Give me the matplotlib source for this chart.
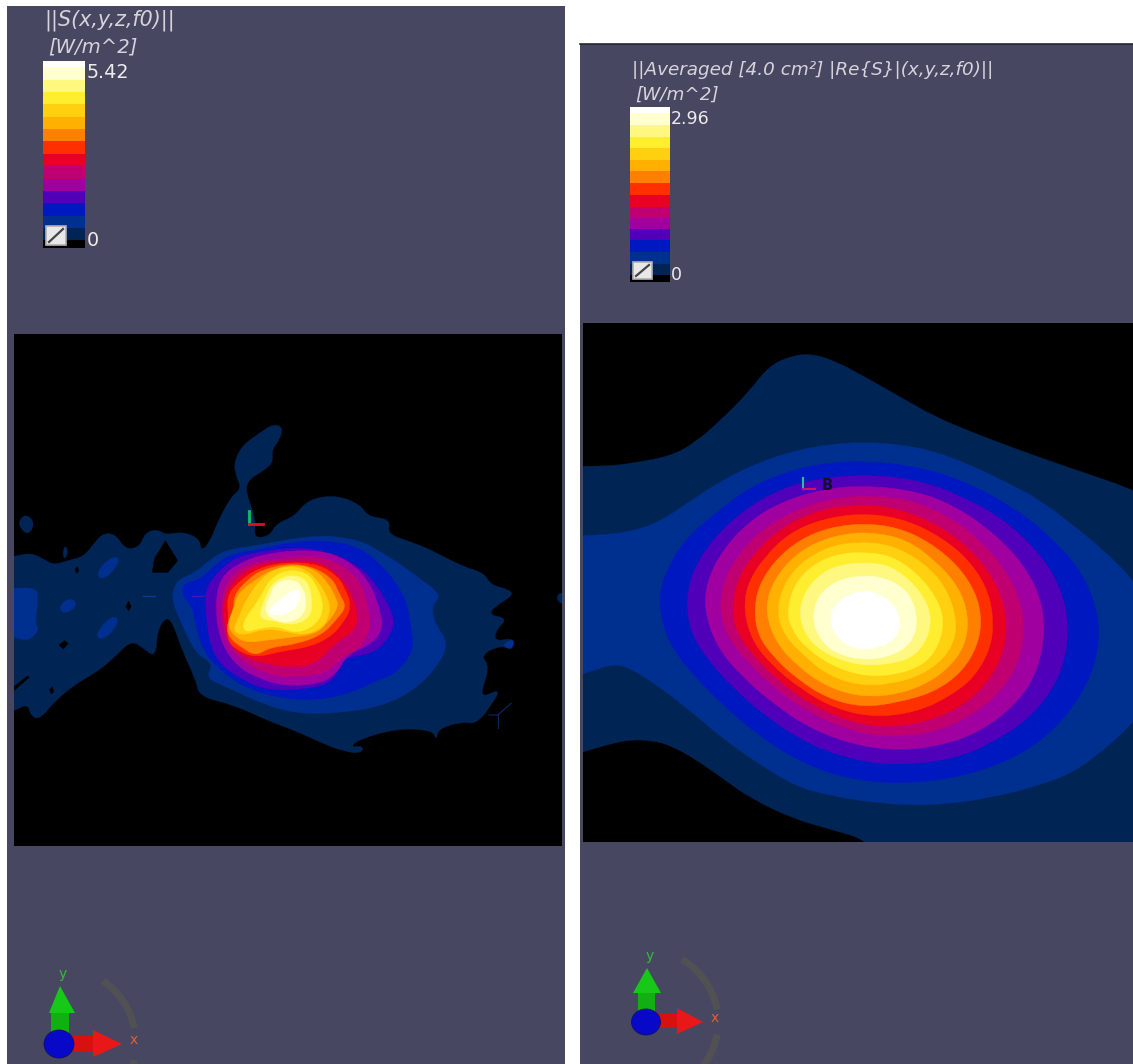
import numpy as np
import matplotlib
matplotlib.use("Agg")
import matplotlib.pyplot as plt
from matplotlib.colors import ListedColormap
from matplotlib.patches import Arc, Ellipse, Polygon, PathPatch, Rectangle
from matplotlib.path import Path

W, H = 1133, 1064
SLATE = "#474762"

band_colors = ["#000000", "#002555", "#00308f", "#0018c0", "#5000b8", "#a000a0",
               "#c00070", "#e80025", "#ff3000", "#ff8000", "#ffb000", "#ffd010",
               "#ffee30", "#fff880", "#ffffd0", "#ffffff"]

bar_levels_left = [0, 0.24, 0.58, 0.93, 1.30, 1.65, 2.00, 2.38, 2.73, 3.09, 3.46,
                   3.81, 4.17, 4.52, 4.88, 5.25, 5.42]
bar_levels_right = [0, 0.11, 0.31, 0.51, 0.71, 0.89, 1.08, 1.27, 1.48, 1.68, 1.88,
                    2.07, 2.26, 2.46, 2.66, 2.86, 2.96]

# left field, outlines per level
left_l1 = [(-50, 445), (11, 440), (60, 428), (100, 450), (125, 465), (170, 450), (210, 440), (240, 400),
           (265, 370), (300, 372), (330, 420), (370, 410), (385, 368), (420, 358), (445, 375), (490, 365),
           (540, 385), (545, 425), (570, 395), (590, 340), (630, 260), (660, 235), (645, 200), (638, 160),
           (660, 108), (710, 70), (750, 42), (778, 52), (768, 90), (745, 120), (750, 160), (710, 190),
           (685, 205), (670, 235), (690, 300), (700, 340), (695, 385), (740, 378), (760, 340), (810, 320),
           (850, 268), (930, 255), (1000, 285), (1020, 320), (1085, 328), (1075, 372), (1140, 395),
           (1200, 420), (1290, 470), (1350, 488), (1370, 525), (1420, 538), (1435, 555), (1380, 590),
           (1365, 615), (1418, 625), (1385, 660), (1380, 695), (1438, 683), (1432, 722), (1400, 705),
           (1340, 735), (1368, 770), (1335, 868), (1398, 835), (1375, 880), (1330, 942), (1290, 935),
           (1220, 955), (1215, 992), (1205, 960), (1100, 955), (990, 990), (970, 1012), (1008, 1008),
           (1000, 1030), (950, 1024), (880, 995), (820, 965), (730, 930), (640, 885), (540, 860),
           (530, 810), (490, 720), (465, 640), (445, 620), (420, 660), (415, 742), (380, 715), (345, 690),
           (290, 750), (240, 790), (190, 820), (130, 870), (85, 928), (60, 918), (50, 880), (11, 905),
           (-50, 905)]
left_l1_islands = [[(20, 340), (45, 310), (72, 340), (50, 378)],
                   [(150, 440), (155, 405), (165, 420), (160, 445)],
                   [(1555, 565), (1570, 545), (1590, 560), (1575, 585)]]
left_l0_holes = [[(443, 392), (412, 445), (405, 487), (450, 487), (478, 452)],
                 [(330, 590), (338, 573), (345, 590), (338, 602)],
                 [(140, 705), (155, 692), (166, 700), (152, 717)],
                 [(112, 840), (120, 830), (125, 845), (118, 852)],
                 [(186, 478), (192, 470), (196, 482), (190, 490)],
                 [(5, 835), (50, 798), (55, 802), (5, 848)]]
left_l2 = [(458, 560), (478, 508), (530, 488), (570, 448), (620, 418), (700, 408), (790, 388), (900, 375),
           (1000, 392), (1060, 428), (1120, 468), (1170, 508), (1230, 555), (1200, 590), (1210, 640),
           (1250, 700), (1218, 770), (1150, 842), (1060, 888), (950, 908), (820, 912), (720, 882),
           (620, 832), (558, 805), (580, 760), (530, 732), (488, 640)]
left_l2_islands = [[(250, 480), (290, 440), (315, 445), (290, 490), (255, 510)],
                   [(140, 590), (165, 565), (190, 575), (180, 600), (150, 610)],
                   [(245, 670), (285, 620), (312, 625), (290, 670), (255, 690)],
                   [(-50, 540), (70, 530), (82, 560), (70, 640), (85, 660), (45, 700), (-50, 650)],
                   [(1400, 705), (1438, 685), (1430, 720)]]
left_l3 = [(490, 555), (495, 520), (540, 510), (580, 470), (630, 430), (700, 422), (790, 398), (900, 390),
           (1000, 413), (1060, 468), (1100, 518), (1132, 580), (1142, 650), (1152, 720), (1100, 792),
           (1040, 812), (990, 842), (880, 872), (750, 862), (650, 822), (590, 772), (550, 720), (530, 650),
           (520, 590)]
left_l4 = [(556, 580), (560, 530), (598, 480), (646, 440), (741, 420), (836, 412), (912, 428), (978, 458),
           (1026, 498), (1064, 558), (1090, 610), (1095, 650), (1066, 702), (1026, 732), (960, 742),
           (942, 770), (912, 822), (836, 838), (741, 842), (665, 812), (598, 762), (568, 700)]
left_l5 = [(585, 590), (598, 500), (668, 450), (760, 425), (880, 420), (960, 448), (1022, 510), (1055, 600),
           (1062, 660), (1030, 702), (960, 732), (930, 792), (880, 822), (780, 828), (700, 802), (640, 762),
           (598, 690)]
left_l6 = [(598, 590), (622, 500), (688, 458), (790, 443), (880, 438), (952, 468), (1002, 520), (1022, 600),
           (1028, 660), (992, 722), (940, 742), (902, 792), (800, 802), (730, 792), (660, 752), (612, 690)]
left_l7 = [(608, 570), (638, 510), (700, 463), (800, 453), (880, 453), (942, 500), (977, 560), (992, 620),
           (982, 662), (922, 702), (872, 762), (800, 772), (730, 762), (670, 742), (623, 702), (610, 640)]
left_l8 = [(618, 560), (648, 518), (708, 473), (790, 456), (880, 463), (932, 498), (952, 530), (975, 590),
           (947, 642), (912, 682), (850, 712), (780, 722), (700, 743), (650, 722), (618, 692), (623, 620)]
left_l9 = [(638, 555), (678, 508), (720, 478), (800, 460), (870, 473), (922, 510), (937, 550), (960, 590),
           (927, 632), (892, 672), (820, 702), (740, 712), (700, 738), (660, 712), (623, 682), (618, 640),
           (638, 600)]
left_l10 = [(640, 590), (648, 550), (708, 503), (750, 478), (810, 463), (870, 478), (907, 520), (927, 560),
            (937, 590), (902, 642), (870, 672), (800, 682), (720, 692), (670, 698), (633, 672), (620, 640)]
left_l11 = [(653, 620), (672, 570), (720, 498), (779, 468), (836, 473), (876, 510), (904, 560), (914, 600),
            (895, 652), (836, 677), (779, 662), (722, 657), (665, 677), (634, 662)]
left_l12 = [(663, 635), (710, 570), (739, 508), (789, 478), (847, 488), (876, 530), (895, 590), (876, 642),
            (817, 672), (760, 647), (703, 657), (668, 667)]
left_l13 = [(706, 625), (729, 560), (748, 518), (798, 493), (847, 508), (862, 570), (857, 622), (807, 647),
            (750, 632)]
left_l14 = [(722, 605), (742, 555), (756, 518), (807, 505), (840, 538), (846, 602), (810, 636), (760, 636)]
left_l15 = [(735, 600), (770, 570), (812, 535), (832, 550), (815, 595), (780, 615), (745, 615)]

# right field, outlines per level
right_l1 = [(-100, 430), (60, 432), (150, 420), (250, 400), (320, 360), (400, 285), (470, 210), (530, 130),
            (590, 100), (650, 92), (720, 115), (800, 160), (900, 220), (1000, 280), (1100, 325), (1250, 385),
            (1400, 440), (1568, 500), (1750, 590), (1750, 1750), (900, 1750), (830, 1560), (700, 1520),
            (600, 1490), (480, 1430), (400, 1370), (320, 1310), (250, 1270), (200, 1255), (130, 1252),
            (60, 1270), (-100, 1320)]
right_l2 = [(-100, 640), (80, 638), (200, 610), (300, 540), (400, 470), (500, 420), (600, 385), (700, 365),
            (800, 358), (900, 365), (1000, 385), (1100, 425), (1200, 475), (1300, 530), (1400, 610),
            (1480, 680), (1568, 770), (1650, 900), (1650, 1100), (1568, 1200), (1500, 1270), (1400, 1350),
            (1300, 1390), (1150, 1430), (1000, 1450), (850, 1445), (700, 1420), (600, 1390), (480, 1310),
            (400, 1250), (300, 1160), (200, 1080), (130, 1035), (90, 1025), (40, 1040), (-100, 1090)]
right_l3 = [(215, 830), (235, 750), (290, 650), (380, 570), (480, 490), (600, 440), (700, 420), (800, 415),
            (950, 430), (1100, 480), (1250, 570), (1350, 660), (1430, 760), (1470, 880), (1470, 980),
            (1440, 1080), (1380, 1180), (1290, 1270), (1180, 1330), (1050, 1370), (900, 1385), (750, 1370),
            (620, 1320), (500, 1240), (390, 1140), (290, 1030), (235, 940)]
right_l4 = [(295, 840), (310, 750), (370, 650), (450, 570), (540, 510), (650, 470), (800, 455), (950, 470),
            (1080, 520), (1200, 590), (1300, 690), (1360, 790), (1385, 900), (1375, 1010), (1340, 1100),
            (1270, 1190), (1170, 1260), (1060, 1310), (900, 1330), (780, 1315), (650, 1270), (530, 1190),
            (420, 1090), (340, 990), (305, 920)]
right_l5 = [(345, 860), (355, 770), (400, 680), (470, 600), (560, 540), (680, 500), (800, 488), (950, 505),
            (1060, 550), (1170, 630), (1260, 730), (1310, 840), (1315, 950), (1290, 1060), (1230, 1150),
            (1130, 1230), (1020, 1270), (900, 1285), (780, 1270), (650, 1220), (550, 1150), (450, 1060),
            (380, 970)]
right_l6 = [(390, 860), (400, 780), (440, 700), (500, 630), (590, 570), (700, 530), (800, 518), (930, 530),
            (1040, 580), (1130, 650), (1210, 750), (1255, 860), (1255, 960), (1230, 1050), (1170, 1130),
            (1090, 1190), (1000, 1230), (880, 1245), (780, 1230), (660, 1180), (560, 1110), (470, 1020),
            (410, 940)]
right_l7 = [(425, 860), (440, 770), (490, 690), (560, 620), (650, 570), (750, 548), (850, 548), (960, 580),
            (1060, 640), (1140, 720), (1195, 820), (1210, 920), (1190, 1020), (1130, 1110), (1050, 1170),
            (950, 1205), (850, 1215), (750, 1195), (640, 1140), (550, 1070), (470, 980), (435, 920)]
right_l8 = [(458, 860), (470, 780), (520, 700), (590, 630), (680, 590), (790, 572), (900, 585), (1000, 630),
            (1090, 700), (1150, 790), (1170, 880), (1165, 970), (1120, 1060), (1050, 1120), (950, 1170),
            (830, 1185), (720, 1160), (620, 1100), (530, 1020), (480, 950)]
right_l9 = [(488, 870), (500, 790), (550, 710), (620, 650), (700, 615), (800, 602), (900, 615), (990, 660),
            (1070, 730), (1120, 810), (1137, 890), (1125, 970), (1080, 1050), (1000, 1110), (900, 1140),
            (800, 1155), (700, 1130), (610, 1070), (540, 1000), (500, 940)]
right_l10 = [(520, 870), (535, 790), (590, 710), (660, 660), (750, 632), (830, 630), (920, 650), (1000, 710),
             (1070, 790), (1100, 880), (1090, 970), (1040, 1040), (970, 1090), (880, 1120), (780, 1122),
             (690, 1090), (610, 1030), (550, 960)]
right_l11 = [(552, 870), (570, 790), (620, 720), (700, 672), (780, 658), (870, 665), (950, 705), (1020, 770),
             (1060, 860), (1065, 940), (1030, 1010), (960, 1060), (880, 1085), (790, 1090), (700, 1060),
             (630, 1000), (575, 940)]
right_l12 = [(582, 870), (600, 790), (650, 730), (720, 695), (800, 688), (880, 700), (950, 750), (1005, 820),
             (1030, 890), (1015, 970), (970, 1030), (880, 1060), (790, 1060), (700, 1025), (630, 970),
             (595, 920)]
right_l13 = [(615, 880), (630, 810), (680, 750), (740, 725), (810, 720), (880, 730), (950, 790), (990, 860),
             (990, 930), (950, 1000), (880, 1025), (790, 1030), (700, 1000), (640, 950)]
right_l14 = [(655, 880), (670, 820), (720, 775), (790, 758), (860, 765), (920, 800), (950, 860), (950, 930),
             (920, 980), (850, 1010), (770, 1010), (700, 980), (665, 930)]
right_l15 = [(702, 890), (718, 845), (760, 815), (810, 803), (865, 825), (900, 870), (905, 915), (885, 955),
             (830, 980), (770, 980), (722, 945)]

left_levels = [left_l1, left_l2, left_l3, left_l4, left_l5, left_l6, left_l7, left_l8, left_l9, left_l10,
               left_l11, left_l12, left_l13, left_l14, left_l15]
right_levels = [right_l1, right_l2, right_l3, right_l4, right_l5, right_l6, right_l7, right_l8, right_l9,
                right_l10, right_l11, right_l12, right_l13, right_l14, right_l15]

fig = plt.figure(figsize=(W / 100, H / 100), dpi=100, facecolor="white")


def px_axes(x0, y0, x1, y1, **kw):
    # axes from picture pixels (y down)
    return fig.add_axes([x0 / W, 1 - y1 / H, (x1 - x0) / W, (y1 - y0) / H], **kw)


def smooth_patch(pts, color):
    # closed quadratic curve through the midpoints of the outline
    p = np.array(pts, dtype=float)
    mids = (p + np.roll(p, -1, axis=0)) / 2
    verts = [mids[-1]]
    codes = [Path.MOVETO]
    for a, m in zip(p, mids):
        verts += [a, m]
        codes += [Path.CURVE3, Path.CURVE3]
    return PathPatch(Path(verts, codes), fc=color, ec=color, lw=0.3)


# panel backgrounds
bg1 = px_axes(7, 6, 565, 1064, facecolor=SLATE)
bg1.axis("off")
bg1.add_patch(Rectangle((0, 0), 1, 1, transform=bg1.transAxes, fc=SLATE, ec="none"))
bg2 = px_axes(580, 44, 1133, 1064, facecolor=SLATE)
bg2.axis("off")
bg2.add_patch(Rectangle((0, 0), 1, 1, transform=bg2.transAxes, fc=SLATE, ec="none"))

# left field
ax1 = px_axes(14, 334, 562, 846, facecolor="black")
ax1.set_xlim(11.4, 1573)
ax1.set_ylim(1308, -228)
ax1.set_xticks([])
ax1.set_yticks([])
for s in ax1.spines.values():
    s.set_visible(False)
for i, pts in enumerate(left_levels):
    ax1.add_patch(smooth_patch(pts, band_colors[i + 1]))
    if i == 0:
        for isl in left_l1_islands:
            ax1.add_patch(smooth_patch(isl, band_colors[1]))
        for hole in left_l0_holes:
            ax1.add_patch(Polygon(hole, closed=True, fc="black", ec="black", lw=0.3))
    if i == 1:
        for isl in left_l2_islands:
            ax1.add_patch(smooth_patch(isl, band_colors[2]))
ax1.plot([680, 680], [302, 342], color="#10c060", lw=2)
ax1.plot([680, 720], [342, 342], color="#e01020", lw=2)
ax1.plot([380, 412], [557, 557], color="#0a3c90", lw=1)
ax1.plot([520, 552], [557, 557], color="#3a20b0", lw=1)
ax1.plot([1365, 1390, 1428], [915, 915, 880], color="#0a2a60", lw=0.8)
ax1.plot([1390, 1390], [915, 955], color="#0a2a60", lw=0.8)

# right field
ax2 = px_axes(583, 323, 1133, 842, facecolor="black")
ax2.set_xlim(0, 1568)
ax2.set_ylim(1560, 0)
ax2.set_xticks([])
ax2.set_yticks([])
for s in ax2.spines.values():
    s.set_visible(False)
for i, pts in enumerate(right_levels):
    ax2.add_patch(smooth_patch(pts, band_colors[i + 1]))
ax2.plot([628, 628], [465, 500], color="#20c0a0", lw=1.5)
ax2.plot([628, 662], [500, 500], color="#d01070", lw=1.5)
ax2.text(695, 487, "B", color="#101030", fontsize=10.5, fontweight="bold", ha="center", va="center")

# colour bars
cmap = ListedColormap(band_colors)
for box, levels in [((43, 61, 85, 248), bar_levels_left), ((630, 107, 670, 282), bar_levels_right)]:
    cax = px_axes(*box)
    cax.pcolormesh([0, 1], levels, np.arange(16).reshape(-1, 1), cmap=cmap, vmin=-0.5, vmax=15.5)
    cax.set_xlim(0, 1)
    cax.set_ylim(levels[0], levels[-1])
    cax.axis("off")

# overlay in picture pixels: labels, icons and orientation triads
ov = fig.add_axes([0, 0, 1, 1], facecolor="none")
ov.set_xlim(0, W)
ov.set_ylim(H, 0)
ov.axis("off")
ov.plot([580, 1133], [44, 44], color="#26262e", lw=1.2)

TXT = "#d4d4dc"
ov.text(44, 20, "||S(x,y,z,f0)||", color=TXT, fontsize=14.9, style="italic", va="center")
ov.text(48, 47, "[W/m^2]", color=TXT, fontsize=14.1, style="italic", va="center")
ov.text(87, 73, "5.42", color="#ececec", fontsize=13.8, va="center")
ov.text(87, 241, "0", color="#ececec", fontsize=13.8, va="center")
ov.text(632, 70, "||Averaged [4.0 cm²] |Re{S}|(x,y,z,f0)||", color=TXT, fontsize=13.2, style="italic", va="center")
ov.text(635, 95, "[W/m^2]", color=TXT, fontsize=13.2, style="italic", va="center")
ov.text(671, 119, "2.96", color="#ececec", fontsize=12.5, va="center")
ov.text(671, 275, "0", color="#ececec", fontsize=12.5, va="center")


def clip_icon(x0, y0, x1, y1):
    ov.add_patch(Rectangle((x0, y0), x1 - x0, y1 - y0, fc="#e8e8e8", ec="#b0b0b0", lw=1.2))
    ov.plot([x0 + 3, x1 - 3], [y1 - 3, y0 + 3], color="#444444", lw=1.6)


clip_icon(46, 226, 66, 245)
clip_icon(633, 262, 652, 279)


def triad(cx, cy, ball, gtip, gbase, gshaft, gy, rtip, rbase, rshaft, ry, ylab, xlab, arcs):
    for t1, t2, r in arcs:
        ov.add_patch(Arc((cx, cy), 2 * r, 2 * r, theta1=t1, theta2=t2, color="#55554f", lw=5, alpha=0.75))
    ov.add_patch(Rectangle((gshaft[0], gy), gshaft[1] - gshaft[0], cy - gy, fc="#10b010", ec="none"))
    ov.add_patch(Polygon([(cx + 1, gtip), (gbase[0], gy), (gbase[1], gy)], fc="#18c818", ec="none"))
    ov.add_patch(Rectangle((cx, ry[0]), rbase - cx, ry[1] - ry[0], fc="#d81010", ec="none"))
    ov.add_patch(Polygon([(rtip, cy), (rbase, rshaft[0]), (rbase, rshaft[1])], fc="#e81818", ec="none"))
    ov.add_patch(Ellipse((cx, cy), ball[0], ball[1], fc="#0808c8", ec="#101060", lw=0.6))
    ov.text(ylab[0], ylab[1], "y", color="#30c030", fontsize=10, ha="center", va="center")
    ov.text(xlab[0], xlab[1], "x", color="#e06030", fontsize=10, ha="center", va="center")


triad(59, 1044, (30, 28), 986, (49, 75), (51, 69), 1013, 122, 93, (1030, 1057), (1036, 1051),
      (63, 974), (134, 1040), [(-55, -12, 77), (12, 40, 77)])
triad(646, 1022, (29, 26), 968, (633, 661), (638, 655), 993, 703, 677, (1008, 1034), (1014, 1028),
      (650, 956), (715, 1018), [(-60, -10, 72), (10, 55, 72)])

fig.savefig("out.png", dpi=100)
